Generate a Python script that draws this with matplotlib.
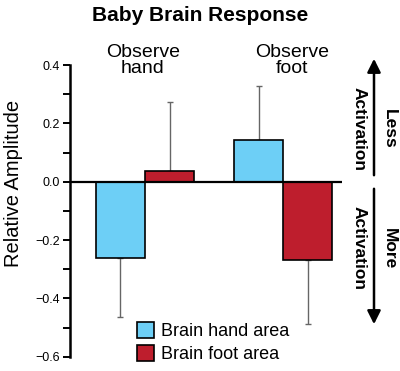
import matplotlib
matplotlib.use("Agg")
import matplotlib.pyplot as plt
from matplotlib.patches import Patch, FancyArrowPatch
import numpy as np

plt.rcParams['font.family'] = ['Liberation Sans', 'DejaVu Sans']

groups = ["Observe\nhand", "Observe\nfoot"]
series = ["Brain hand area", "Brain foot area"]
hand_area = [-0.263, 0.143]
foot_area = [0.038, -0.268]
hand_err = [0.200, 0.186]
foot_err = [0.236, 0.220]
yticks = [-0.6, -0.4, -0.2, 0.0, 0.2, 0.4]
ytick_labels = ["\u22120.6", "\u22120.4", "\u22120.2", "0.0", "0.2", "0.4"]

W, H = 400, 371
fig = plt.figure(figsize=(W / 100, H / 100), dpi=100)


def fx(x):
    return x / W


def fy(y):
    return 1 - y / H


ax = fig.add_axes([fx(70), fy(356.7), fx(341.7) - fx(70), fy(65) - fy(356.7)])

blue = "#6dcff6"
red = "#be1e2d"
width = 0.355
x = np.arange(len(groups))


def one_sided(vals, errs):
    lo = [e if v < 0 else 0 for v, e in zip(vals, errs)]
    hi = [e if v >= 0 else 0 for v, e in zip(vals, errs)]
    return [lo, hi]


ax.bar(x - width / 2, hand_area, width, color=blue, edgecolor="black", linewidth=1.2, zorder=2)
ax.bar(x + width / 2, foot_area, width, color=red, edgecolor="black", linewidth=1.2, zorder=2)
ax.errorbar(x - width / 2, hand_area, yerr=one_sided(hand_area, hand_err), fmt="none",
            ecolor="#666666", elinewidth=1, capsize=2, capthick=1, zorder=1)
ax.errorbar(x + width / 2, foot_area, yerr=one_sided(foot_area, foot_err), fmt="none",
            ecolor="#666666", elinewidth=1, capsize=2, capthick=1, zorder=1)

ax.axhline(0, color="black", linewidth=1.6, zorder=3)
ax.set_xlim(-0.542, 1.422)
ax.set_ylim(-0.6, 0.4)
for s in ["top", "right", "bottom"]:
    ax.spines[s].set_visible(False)
ax.spines["left"].set_linewidth(1.8)
ax.set_xticks([])
ax.set_yticks(yticks)
ax.set_yticklabels(ytick_labels, fontsize=9)
ax.set_yticks(np.arange(-0.5, 0.4, 0.2), minor=True)
ax.tick_params(axis="y", which="both", length=5, width=1.4, direction="out", pad=2)
ax.patch.set_alpha(0)

fig.text(fx(200), fy(21), "Baby Brain Response", ha="center", va="baseline",
         fontsize=15, fontweight="bold")
fig.text(fx(143), fy(73), groups[0], ha="center", va="baseline", fontsize=14,
         linespacing=0.95, multialignment="center")
fig.text(fx(292), fy(73), groups[1], ha="center", va="baseline", fontsize=14,
         linespacing=0.95, multialignment="center")
fig.text(fx(14), fy(183.5), "Relative Amplitude", rotation=90, ha="center", va="center",
         fontsize=14.5)

# activation arrows
fig.add_artist(FancyArrowPatch((fx(374), fy(178)), (fx(374), fy(56)),
               transform=fig.transFigure, arrowstyle="-|>,head_length=5,head_width=2.5",
               mutation_scale=1.6, color="black", linewidth=1.8))
fig.add_artist(FancyArrowPatch((fx(374), fy(186)), (fx(374), fy(327)),
               transform=fig.transFigure, arrowstyle="-|>,head_length=5,head_width=2.5",
               mutation_scale=1.6, color="black", linewidth=1.8))
fig.text(fx(359), fy(129), "Activation", rotation=-90, ha="center", va="center",
         fontsize=12.5, fontweight="bold")
fig.text(fx(389), fy(129), "Less", rotation=-90, ha="center", va="center",
         fontsize=12.5, fontweight="bold")
fig.text(fx(359), fy(248), "Activation", rotation=-90, ha="center", va="center",
         fontsize=12.5, fontweight="bold")
fig.text(fx(389), fy(249), "More", rotation=-90, ha="center", va="center",
         fontsize=12.5, fontweight="bold")

handles = [Patch(facecolor=blue, edgecolor="black", linewidth=1.2),
           Patch(facecolor=red, edgecolor="black", linewidth=1.2)]
fig.legend(handles, series, loc="upper left", bbox_to_anchor=(fx(137), fy(322)),
           frameon=False, fontsize=13, handlelength=0.95, handleheight=0.95,
           handletextpad=0.4, labelspacing=0.3, borderpad=0, borderaxespad=0)

fig.savefig("out.png", dpi=100)
